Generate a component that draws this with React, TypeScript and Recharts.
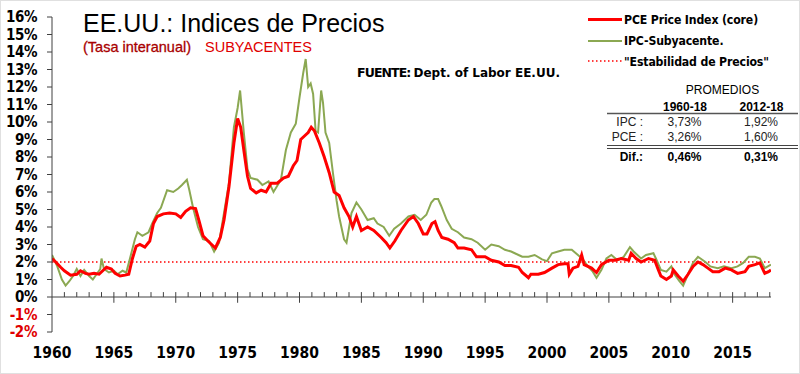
import React from 'react';
import { LineChart, Line, XAxis, YAxis, ReferenceLine } from 'recharts';

// PCE core (red)
const pceYear = [
  1960.0, 1960.3, 1960.7, 1961.0, 1961.5, 1962.0, 1962.3, 1962.7, 1963.0, 1963.4, 1963.8, 1964.1, 1964.4, 1964.8,
  1965.1, 1965.5, 1965.9, 1966.2, 1966.5, 1966.8, 1967.1, 1967.5, 1967.9, 1968.2, 1968.5, 1969.0, 1969.5, 1970.0,
  1970.4, 1970.8, 1971.2, 1971.6, 1971.9, 1972.2, 1972.6, 1972.9, 1973.2, 1973.6, 1973.9, 1974.3, 1974.7, 1975.0,
  1975.25, 1975.5, 1975.8, 1976.05, 1976.5, 1976.9, 1977.3, 1977.7, 1978.2, 1978.7, 1979.1, 1979.5, 1979.8, 1980.1,
  1980.4, 1980.7, 1980.95, 1981.2, 1981.6, 1982.0, 1982.4, 1982.8, 1983.2, 1983.6, 1984.0, 1984.3, 1984.6, 1985.0,
  1985.5, 1986.0, 1986.6, 1987.0, 1987.3, 1987.7, 1988.2, 1988.8, 1989.2, 1989.6, 1990.0, 1990.3, 1990.7, 1990.95,
  1991.2, 1991.5, 1992.0, 1992.5, 1992.8, 1993.3, 1993.9, 1994.3, 1995.0, 1995.5, 1996.1, 1996.6, 1997.1, 1997.7,
  1998.0, 1998.5, 1998.7, 1999.3, 1999.8, 2000.4, 2000.9, 2001.4, 2001.7, 2001.8, 2002.1, 2002.5, 2002.8, 2003.0,
  2003.6, 2004.0, 2004.4, 2005.0, 2005.5, 2006.0, 2006.6, 2006.8, 2007.2, 2007.6, 2008.2, 2008.7, 2009.0, 2009.2,
  2009.65, 2010.05, 2010.2, 2010.6, 2011.0, 2011.4, 2011.8, 2012.2, 2012.6, 2013.0, 2013.4, 2013.9, 2014.4, 2014.9,
  2015.4, 2016.0, 2016.3, 2016.8, 2017.2, 2017.6, 2017.9, 2018.1,
];
const pceRate = [
  2.2, 2.0, 1.7, 1.5, 1.25, 1.3, 1.5, 1.35, 1.3, 1.35, 1.3, 1.5, 1.7, 1.6,
  1.35, 1.2, 1.25, 1.3, 2.2, 2.9, 3.0, 2.85, 3.2, 4.2, 4.6, 4.75, 4.8, 4.75,
  4.55, 4.9, 5.1, 5.05, 4.3, 3.5, 3.2, 3.0, 2.8, 3.4, 4.4, 6.3, 8.8, 10.2,
  9.7, 8.4, 6.9, 6.2, 5.95, 6.1, 6.0, 6.5, 6.5, 6.8, 6.9, 7.5, 7.8, 9.0,
  9.2, 9.4, 9.7, 9.5, 8.8, 8.0, 7.1, 6.0, 5.8, 5.1, 4.6, 4.0, 4.6, 3.8,
  4.0, 3.8, 3.4, 3.1, 2.8, 3.2, 3.8, 4.4, 4.6, 4.2, 3.6, 3.6, 4.2, 4.3,
  3.8, 3.4, 3.3, 3.1, 2.8, 2.8, 2.7, 2.3, 2.3, 2.1, 2.0, 1.8, 1.8, 1.7,
  1.4, 1.1, 1.3, 1.3, 1.4, 1.65, 1.85, 1.9, 1.9, 1.3, 1.65, 1.75, 2.4, 1.85,
  1.65, 1.4, 1.85, 2.1, 2.1, 2.2, 2.1, 2.5, 2.2, 2.0, 2.2, 2.1, 1.55, 1.2,
  1.0, 1.2, 1.55, 1.2, 0.9, 1.3, 1.75, 2.0, 1.85, 1.65, 1.45, 1.45, 1.65, 1.55,
  1.35, 1.45, 1.75, 1.85, 1.95, 1.35, 1.45, 1.55,
];

// IPC subyacente (green)
const ipcYear = [
  1960.0, 1960.4, 1960.8, 1961.1, 1961.4, 1961.7, 1962.0, 1962.3, 1962.6, 1963.0, 1963.3, 1963.6, 1963.9, 1964.0,
  1964.2, 1964.6, 1965.0, 1965.3, 1965.7, 1966.0, 1966.3, 1966.7, 1966.9, 1967.3, 1967.8, 1968.1, 1968.5, 1968.8,
  1969.3, 1969.8, 1970.2, 1970.5, 1970.9, 1971.1, 1971.4, 1971.8, 1972.2, 1972.7, 1973.1, 1973.5, 1973.9, 1974.3,
  1974.7, 1975.0, 1975.2, 1975.5, 1975.8, 1976.05, 1976.6, 1977.0, 1977.5, 1977.9, 1978.5, 1978.9, 1979.3, 1979.7,
  1980.0, 1980.3, 1980.5, 1980.7, 1980.9, 1981.1, 1981.3, 1981.5, 1981.75, 1981.9, 1982.1, 1982.4, 1982.7, 1983.0,
  1983.2, 1983.6, 1983.8, 1984.2, 1984.6, 1985.0, 1985.5, 1986.0, 1986.3, 1986.8, 1987.25, 1987.65, 1988.2, 1988.8,
  1989.3, 1989.8, 1990.25, 1990.65, 1990.9, 1991.2, 1991.45, 1991.9, 1992.3, 1992.8, 1993.3, 1993.9, 1994.4, 1995.0,
  1995.5, 1996.1, 1996.6, 1997.1, 1997.7, 1998.0, 1998.5, 1999.0, 1999.6, 2000.0, 2000.4, 2000.9, 2001.4, 2002.0,
  2002.5, 2002.9, 2003.3, 2003.7, 2004.0, 2004.4, 2004.8, 2005.2, 2005.7, 2006.2, 2006.7, 2007.0, 2007.6, 2008.0,
  2008.6, 2008.8, 2009.2, 2009.65, 2010.05, 2010.3, 2010.7, 2011.0, 2011.4, 2011.8, 2012.2, 2012.4, 2012.8, 2013.2,
  2013.8, 2014.3, 2014.9, 2015.4, 2015.85, 2016.3, 2016.8, 2017.2, 2017.6, 2018.1,
];
const ipcRate = [
  2.4, 1.8, 1.0, 0.65, 0.9, 1.2, 1.6, 1.2, 1.55, 1.2, 1.0, 1.3, 1.6, 2.2,
  1.6, 1.4, 1.5, 1.3, 1.5, 1.4, 2.2, 3.3, 3.7, 3.5, 3.7, 4.2, 4.8, 5.1,
  6.1, 6.0, 6.2, 6.4, 6.7, 6.1, 5.1, 4.0, 3.3, 3.2, 2.6, 3.1, 4.8, 6.5,
  9.7, 10.8, 11.8, 9.4, 7.3, 6.8, 6.7, 6.4, 6.6, 6.0, 6.7, 8.4, 9.4, 9.9,
  11.4, 12.8, 13.6, 12.0, 12.2, 11.6, 9.5, 9.4, 11.8, 11.1, 9.4, 8.8, 7.1, 5.5,
  4.6, 3.3, 3.1, 4.8, 5.4, 5.0, 4.4, 4.5, 4.2, 4.0, 3.5, 3.9, 4.2, 4.6,
  4.7, 4.4, 4.7, 5.4, 5.6, 5.6, 5.2, 4.4, 3.9, 3.7, 3.4, 3.3, 3.1, 2.7,
  3.0, 2.9, 2.7, 2.6, 2.4, 2.3, 2.3, 2.4, 2.15, 2.05, 2.5, 2.6, 2.7, 2.7,
  2.4, 2.15, 1.75, 1.45, 1.1, 1.55, 2.2, 2.4, 2.1, 2.3, 2.85, 2.6, 2.2, 2.4,
  2.5, 2.2, 1.55, 1.45, 1.75, 1.3, 0.9, 0.65, 1.3, 1.95, 2.3, 2.2, 2.0, 1.75,
  1.65, 1.75, 1.65, 1.75, 1.95, 2.3, 2.3, 2.2, 1.65, 1.85,
];

const yearTicks = [1960, 1965, 1970, 1975, 1980, 1985, 1990, 1995, 2000, 2005, 2010, 2015];
const minorYears = Array.from({ length: 58 }, (_, i) => 1961 + i);
const pctTicks = [-2, -1, 0, 1, 2, 3, 4, 5, 6, 7, 8, 9, 10, 11, 12, 13, 14, 15, 16];

const legendLabels = ['PCE Price Index (core)', 'IPC-Subyacente.', '"Estabilidad de Precios"'];
const tableHeaders = ['1960-18', '2012-18'];
const tableRows = [
  ['IPC :', '3,73%', '1,92%'],
  ['PCE :', '3,26%', '1,60%'],
];
const tableDiff = ['Dif.:', '0,46%', '0,31%'];

const pceData = pceYear.map((y, i) => ({ year: y, value: pceRate[i] }));
const ipcData = ipcYear.map((y, i) => ({ year: y, value: ipcRate[i] }));

const RED = '#ff0000';
const GREEN = '#8ba852';
const AXIS = '#404040';
const COND = '"DejaVu Sans Condensed", "DejaVu Sans", sans-serif';
const DEJAVU = '"DejaVu Sans", sans-serif';
const ARIAL = '"Liberation Sans", Arial, sans-serif';

const YTick = ({ x, y, payload }: any) => (
  <text x={x} y={y} dy="0.36em" textAnchor="end" fontFamily={COND} fontWeight="bold" fontSize={15}
    letterSpacing={-0.4} fill={payload.value < 0 ? '#e00000' : '#000'}>
    {payload.value}%
  </text>
);

const XTick = ({ x, y, payload }: any) => (
  <text x={x} y={y} dy={26} textAnchor="middle" fontFamily={COND} fontWeight="bold" fontSize={15.5} fill="#000">
    {payload.value}
  </text>
);

export default function App() {
  return (
    <div style={{ position: 'absolute', left: 0, top: 0, width: 800, height: 374, background: '#fff' }}>
      <LineChart width={800} height={374} margin={{ top: 17, right: 29, left: 0, bottom: 12 }}>
        <XAxis type="number" dataKey="year" domain={[1960, 2018.1]} allowDataOverflow ticks={yearTicks}
          axisLine={false} tickLine={false} tickSize={0} tickMargin={0} height={30} tick={<XTick />} />
        <YAxis type="number" domain={[-2, 16]} ticks={pctTicks} interval={0} width={52} allowDataOverflow
          axisLine={{ stroke: AXIS }} tickLine={{ stroke: AXIS }} tickSize={5} tickMargin={10} tick={<YTick />} />
        <ReferenceLine y={2} stroke={RED} strokeWidth={1.5} strokeDasharray="1.5 2.5" />
        <ReferenceLine y={0} stroke={AXIS} strokeWidth={1} />
        {minorYears.map((yr) => (
          <ReferenceLine key={yr} stroke={AXIS} strokeWidth={1}
            segment={[{ x: yr, y: yr % 5 === 0 ? -0.33 : 0 }, { x: yr, y: 0.28 }]} />
        ))}
        <Line data={ipcData} dataKey="value" type="linear" stroke={GREEN} strokeWidth={2} dot={false} isAnimationActive={false} />
        <Line data={pceData} dataKey="value" type="linear" stroke={RED} strokeWidth={3} dot={false} isAnimationActive={false} />
      </LineChart>
      <svg width={800} height={374} style={{ position: 'absolute', left: 0, top: 0, pointerEvents: 'none' }}>
        <text x={83} y={32} fontFamily={ARIAL} fontSize={25} fill="#000">EE.UU.: Indices de Precios</text>
        <text x={83} y={52} fontFamily={ARIAL} fontSize={14.5} fill="#a80000" stroke="#a80000" strokeWidth={0.3}>(Tasa interanual)</text>
        <text x={205} y={52} fontFamily={ARIAL} fontSize={14.5} fill="#e00000">SUBYACENTES</text>
        <text x={357} y={77} fontFamily={DEJAVU} fontWeight="bold" fontSize={12} fill="#000">
          <tspan letterSpacing={-0.9} fontSize={12.5}>FUENTE:</tspan>
          <tspan dx={3}>Dept. of Labor EE.UU.</tspan>
        </text>

        <line x1={588} x2={622} y1={19.5} y2={19.5} stroke={RED} strokeWidth={3} />
        <line x1={588} x2={622} y1={41} y2={41} stroke={GREEN} strokeWidth={2} />
        <line x1={588} x2={622} y1={61} y2={61} stroke={RED} strokeWidth={1.5} strokeDasharray="1.5 2.5" />
        {legendLabels.map((t, i) => (
          <text key={t} x={624} y={24 + i * 21} fontFamily={COND} fontWeight="bold" fontSize={12.2}
            letterSpacing={-0.15} fill="#000">{t}</text>
        ))}

        <text x={722.5} y={93.5} textAnchor="middle" fontFamily={ARIAL} fontSize={12} fill="#000">PROMEDIOS</text>
        {tableHeaders.map((t, i) => (
          <text key={t} x={i === 0 ? 685 : 761.5} y={110.5} textAnchor="middle" fontFamily={ARIAL} fontWeight="bold" fontSize={12} fill="#000">{t}</text>
        ))}
        <line x1={607} x2={798} y1={113.5} y2={113.5} stroke="#555" strokeWidth={1.5} />
        {tableRows.map((row, r) => (
          <g key={row[0]}>
            <text x={643} y={126 + r * 15} textAnchor="end" fontFamily={ARIAL} fontSize={12} fill="#222">{row[0]}</text>
            <text x={684.5} y={126 + r * 15} textAnchor="middle" fontFamily={ARIAL} fontSize={12} fill="#222">{row[1]}</text>
            <text x={761} y={126 + r * 15} textAnchor="middle" fontFamily={ARIAL} fontSize={12} fill="#222">{row[2]}</text>
          </g>
        ))}
        <line x1={607} x2={798} y1={145.5} y2={145.5} stroke="#444" strokeWidth={1} />
        <line x1={607} x2={798} y1={148.5} y2={148.5} stroke="#444" strokeWidth={1} />
        <text x={643} y={160.5} textAnchor="end" fontFamily={ARIAL} fontWeight="bold" fontSize={12} fill="#000">{tableDiff[0]}</text>
        <text x={684.5} y={160.5} textAnchor="middle" fontFamily={ARIAL} fontWeight="bold" fontSize={12} fill="#000">{tableDiff[1]}</text>
        <text x={761} y={160.5} textAnchor="middle" fontFamily={ARIAL} fontWeight="bold" fontSize={12} fill="#000">{tableDiff[2]}</text>
        <rect x={0.5} y={0.5} width={799} height={373} fill="none" stroke="#e0e0e0" />
      </svg>
    </div>
  );
}
